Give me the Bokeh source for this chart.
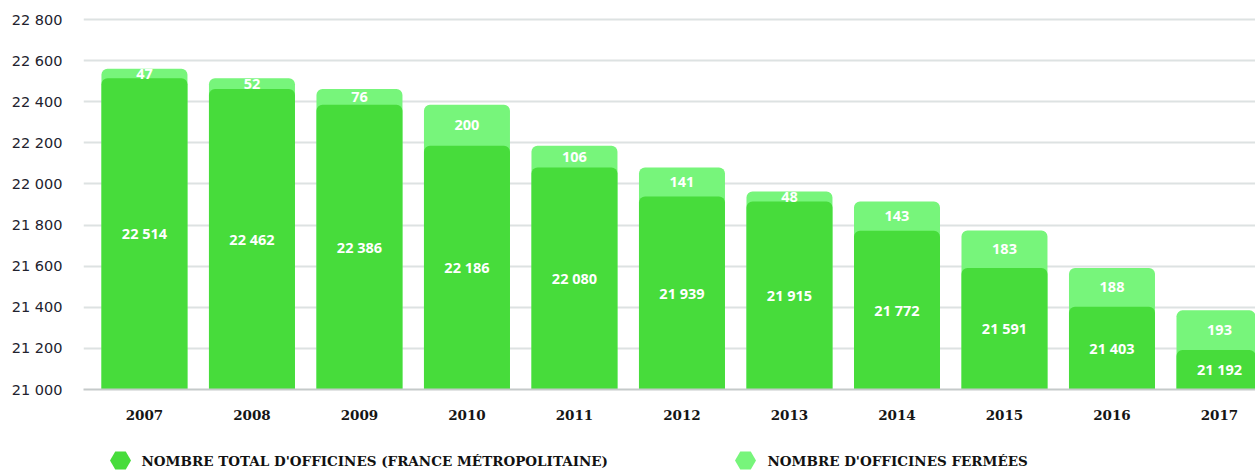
from bokeh.plotting import figure
from bokeh.models import Range1d, FixedTicker, ColumnDataSource
from bokeh.layouts import column
from bokeh.core.properties import value
from bokeh.embed import file_html
from bokeh.resources import INLINE

years = [2007, 2008, 2009, 2010, 2011, 2012, 2013, 2014, 2015, 2016, 2017]
total = [22514, 22462, 22386, 22186, 22080, 21939, 21915, 21772, 21591, 21403, 21192]
closed = [47, 52, 76, 200, 106, 141, 48, 143, 183, 188, 193]
y_ticks = [21000, 21200, 21400, 21600, 21800, 22000, 22200, 22400, 22600, 22800]
y_tick_labels = ["21 000", "21 200", "21 400", "21 600", "21 800",
                 "22 000", "22 200", "22 400", "22 600", "22 800"]
legend_labels = ["NOMBRE TOTAL D'OFFICINES (FRANCE MÉTROPOLITAINE)",
                 "NOMBRE D'OFFICINES FERMÉES"]

DARK = "#47dc3b"
LIGHT = "#77f57b"
BASE = 21000

def fmt(v):
    s = str(v)
    return s[:-3] + " " + s[-3:] if len(s) > 3 else s

src = ColumnDataSource(dict(
    x=years,
    base=[BASE] * len(years),
    total=total,
    top=[t + c for t, c in zip(total, closed)],
    mid_total=[(BASE + t) / 2 for t in total],
    mid_closed=[t + c / 2 for t, c in zip(total, closed)],
    lab_total=[fmt(t) for t in total],
    lab_closed=[str(c) for c in closed],
))

p = figure(width=1255, height=430, output_backend="svg", toolbar_location=None,
           x_range=Range1d(2006.433, 2017.335), y_range=Range1d(BASE, 22810),
           min_border_left=83, min_border_right=0, min_border_top=17,
           min_border_bottom=41)
p.outline_line_color = None
p.background_fill_color = "white"
p.border_fill_color = "white"

p.vbar(x="x", bottom="base", top="top", width=0.8, source=src,
       fill_color=LIGHT, line_color=None, border_radius=(6, 6, 0, 0))
p.vbar(x="x", bottom="base", top="total", width=0.8, source=src,
       fill_color=DARK, line_color=None, border_radius=(6, 6, 0, 0))

p.text(x="x", y="mid_total", text="lab_total", source=src,
       text_color="white", text_font=value("Open Sans"), text_font_style="bold",
       text_font_size="14.5px", text_align="center", text_baseline="middle")
p.text(x="x", y="mid_closed", text="lab_closed", source=src,
       text_color="white", text_font=value("Open Sans"), text_font_style="bold",
       text_font_size="14.5px", text_align="center", text_baseline="middle")

p.xgrid.grid_line_color = None
p.ygrid.ticker = FixedTicker(ticks=y_ticks)
p.ygrid.grid_line_color = "#dde2e2"
p.ygrid.grid_line_width = 2

p.yaxis.ticker = FixedTicker(ticks=y_ticks)
p.yaxis.major_label_overrides = {t: l for t, l in zip(y_ticks, y_tick_labels)}
p.yaxis.axis_line_color = None
p.yaxis.major_tick_line_color = None
p.yaxis.minor_tick_line_color = None
p.yaxis.major_label_standoff = 15
p.yaxis.major_label_text_font = "DejaVu Sans"
p.yaxis.major_label_text_font_size = "14.5px"
p.yaxis.major_label_text_color = "#22222e"

p.xaxis.ticker = FixedTicker(ticks=years)
p.xaxis.axis_line_color = "#c5caca"
p.xaxis.axis_line_width = 2
p.xaxis.major_tick_line_color = None
p.xaxis.minor_tick_line_color = None
p.xaxis.major_label_standoff = 14
p.xaxis.major_label_text_font = "DejaVu Serif"
p.xaxis.major_label_text_font_style = "bold"
p.xaxis.major_label_text_font_size = "13.5px"
p.xaxis.major_label_text_color = "#151515"

# legend row: frame is aligned with the main frame (x 83..1255 in pixels)
leg = figure(width=1255, height=40, output_backend="svg", toolbar_location=None,
             x_range=Range1d(83, 1255), y_range=Range1d(0, 40),
             min_border_left=83, min_border_right=0,
             min_border_top=0, min_border_bottom=0)
leg.axis.visible = False
leg.grid.visible = False
leg.outline_line_color = None
leg.scatter(x=[120, 745], y=[10, 10], marker="hex", size=21,
            fill_color=[DARK, LIGHT], line_color=None)
leg.text(x=[141, 767], y=[10, 10], text=legend_labels, text_color="#111111",
         text_font=value("DejaVu Serif"), text_font_style="bold",
         text_font_size="13.5px", text_baseline="middle", text_align="left")

layout = column(p, leg, spacing=0)
open("out.html", "w").write(file_html(layout, INLINE))
